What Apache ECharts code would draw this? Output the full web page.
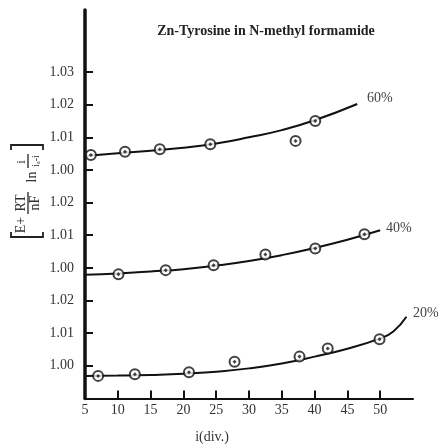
<!DOCTYPE html>
<html>
<head>
<meta charset="utf-8">
<script src="https://cdn.jsdelivr.net/npm/echarts@6/dist/echarts.min.js"></script>
<style>html,body{margin:0;padding:0;background:#fff}#c{width:438px;height:444px}</style>
</head>
<body>
<div id="c"></div>
<script>
// ---- data ----
var yTickPos = [1, 2, 3, 4, 5, 6, 7, 8, 9, 10];
var yTickLabels = ['1.00', '1.01', '1.02', '1.00', '1.01', '1.02', '1.00', '1.01', '1.02', '1.03'];
var xTickLabels = [5, 10, 15, 20, 25, 30, 35, 40, 45, 50];

// 60 % (baseline offset 7)
var p60x = [5.9, 11.1, 16.4, 24.1, 37.1, 40.1];
var p60y = [1.0046, 1.0056, 1.0063, 1.0079, 1.0089, 1.0150];
var c60x = [5, 10, 15, 20, 25, 30, 35, 40, 46.5];
var c60y = [1.0043, 1.0051, 1.0059, 1.0068, 1.0081, 1.0100, 1.0122, 1.0152, 1.0202];

// 40 % (baseline offset 4)
var p40x = [10.1, 17.3, 24.6, 32.5, 40.1, 47.6];
var p40y = [0.9980, 0.9993, 1.0008, 1.0041, 1.0059, 1.0103];
var c40x = [5, 10, 15, 20, 25, 30, 35, 40, 45, 50];
var c40y = [0.9979, 0.9983, 0.9989, 0.9996, 1.0007, 1.0021, 1.0039, 1.0061, 1.0086, 1.0115];

// 20 % (baseline offset 1)
var p20x = [7.0, 12.6, 20.85, 27.8, 37.7, 42.0, 49.9];
var p20y = [0.9969, 0.9974, 0.9980, 1.0012, 1.0028, 1.0053, 1.0081];
var c20x = [5, 10, 15, 20, 25, 30, 35, 40, 45, 50, 52, 54];
var c20y = [0.9969, 0.9970, 0.9972, 0.99755, 0.9982, 0.9992, 1.0007, 1.0028, 1.0052, 1.0084, 1.0105, 1.0150];

var offsets = {p20: 1, p40: 4, p60: 7};

function toPlot(xs, ys, off) {
  return xs.map(function (x, i) { return [x, off + (ys[i] - 1.0) * 100]; });
}

var FONT = "'Liberation Serif','Times New Roman',serif";
var chart = echarts.init(document.getElementById('c'), null, {renderer: 'canvas'});

function lineSeries(xs, ys, off) {
  return {type: 'line', data: toPlot(xs, ys, off), smooth: 0.5, showSymbol: false, symbol: 'none',
    lineStyle: {color: '#111', width: 2}, silent: true, z: 2};
}
function ptSeries(xs, ys, off) {
  return {type: 'scatter', data: toPlot(xs, ys, off), symbol: 'circle', symbolSize: 10,
    itemStyle: {color: '#fff', borderColor: '#111', borderWidth: 2}, z: 3};
}
function dotSeries(xs, ys, off) {
  return {type: 'scatter', data: toPlot(xs, ys, off), symbol: 'diamond', symbolSize: 4,
    itemStyle: {color: '#111'}, z: 4};
}

var option = {
  backgroundColor: '#fff',
  animation: false,
  grid: {left: 85, right: 25, top: 10, bottom: 45.6, containLabel: false},
  xAxis: {
    type: 'value', min: 5, max: 55, interval: 5,
    axisLine: {show: true, lineStyle: {color: '#111', width: 2}},
    axisTick: {show: true, inside: true, length: 8, lineStyle: {color: '#111', width: 2},
      customValues: [10, 15, 20, 25, 30, 35, 40, 45, 50]},
    axisLabel: {color: '#333', fontFamily: FONT, fontSize: 14, margin: 5, customValues: xTickLabels,
      formatter: function (v) { return v <= 50 ? String(v) : ''; }},
    splitLine: {show: false}
  },
  yAxis: {
    type: 'value', min: 0, max: 11.9, interval: 1,
    axisLine: {show: true, lineStyle: {color: '#111', width: 3.5}},
    axisTick: {show: true, inside: true, length: 8, lineStyle: {color: '#111', width: 2},
      customValues: yTickPos},
    axisLabel: {color: '#333', fontFamily: FONT, fontSize: 14, margin: 11, customValues: yTickPos,
      formatter: function (v) { var i = yTickPos.indexOf(Math.round(v)); return i >= 0 ? yTickLabels[i] : ''; }},
    splitLine: {show: false}
  },
  series: [
    lineSeries(c60x, c60y, offsets.p60), ptSeries(p60x, p60y, offsets.p60), dotSeries(p60x, p60y, offsets.p60),
    lineSeries(c40x, c40y, offsets.p40), ptSeries(p40x, p40y, offsets.p40), dotSeries(p40x, p40y, offsets.p40),
    lineSeries(c20x, c20y, offsets.p20), ptSeries(p20x, p20y, offsets.p20), dotSeries(p20x, p20y, offsets.p20)
  ],
  graphic: [
    {type: 'text', x: 266, y: 31, style: {text: 'Zn-Tyrosine in N-methyl formamide', font: 'bold 14px ' + FONT,
      fill: '#222', align: 'center', verticalAlign: 'middle'}},
    {type: 'text', x: 212, y: 437, style: {text: 'i(div.)', font: '14px ' + FONT, fill: '#333',
      align: 'center', verticalAlign: 'middle'}},
    {type: 'text', x: 367, y: 98, style: {text: '60%', font: '14px ' + FONT, fill: '#444', verticalAlign: 'middle'}},
    {type: 'text', x: 386, y: 228, style: {text: '40%', font: '14px ' + FONT, fill: '#444', verticalAlign: 'middle'}},
    {type: 'text', x: 413, y: 313, style: {text: '20%', font: '14px ' + FONT, fill: '#444', verticalAlign: 'middle'}},
    // rotated y-axis name
    {type: 'polyline', shape: {points: [[11, 232], [11, 237], [43, 237], [43, 232]]}, style: {stroke: '#222', lineWidth: 1.8, fill: null}},
    {type: 'polyline', shape: {points: [[11, 150], [11, 145], [43, 145], [43, 150]]}, style: {stroke: '#222', lineWidth: 1.8, fill: null}},
    {type: 'text', x: 21, y: 225, rotation: Math.PI / 2, style: {text: 'E+', font: '14px ' + FONT, fill: '#333', align: 'center', verticalAlign: 'middle'}},
    {type: 'text', x: 21, y: 203, rotation: Math.PI / 2, style: {text: 'RT', font: '14px ' + FONT, fill: '#333', align: 'center', verticalAlign: 'middle'}},
    {type: 'line', shape: {x1: 28, y1: 192, x2: 28, y2: 214}, style: {stroke: '#222', lineWidth: 1.3}},
    {type: 'text', x: 35, y: 203, rotation: Math.PI / 2, style: {text: 'nF', font: '14px ' + FONT, fill: '#333', align: 'center', verticalAlign: 'middle'}},
    {type: 'text', x: 32, y: 177, rotation: Math.PI / 2, style: {text: 'ln', font: '14px ' + FONT, fill: '#333', align: 'center', verticalAlign: 'middle'}},
    {type: 'text', x: 22, y: 162, rotation: Math.PI / 2, style: {text: 'i', font: '13px ' + FONT, fill: '#333', align: 'center', verticalAlign: 'middle'}},
    {type: 'line', shape: {x1: 28, y1: 154, x2: 28, y2: 168}, style: {stroke: '#222', lineWidth: 1.3}},
    {type: 'text', x: 36, y: 161, rotation: Math.PI / 2, style: {text: 'i\u2090-i', font: '10px ' + FONT, fill: '#333', align: 'center', verticalAlign: 'middle'}}
  ]
};
chart.setOption(option);
</script>
</body>
</html>
